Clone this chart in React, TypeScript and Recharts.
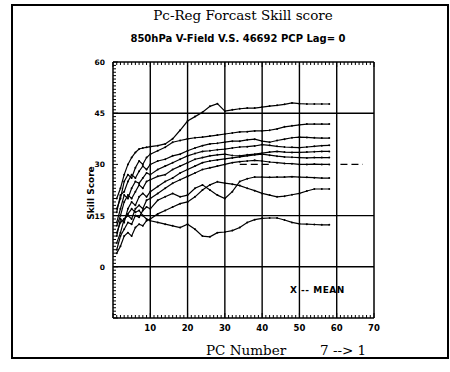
import { LineChart, Line, XAxis, YAxis, ReferenceLine } from "recharts"

// PC number (x) and skill score (%) per curve
const PC = [1, 2, 3, 4, 5, 6, 7, 8, 9, 10, 12, 14, 16, 18, 20, 22, 24, 26, 28, 30, 32, 34, 36, 38, 40, 42, 44, 46, 48, 50, 52, 54, 56, 58]

const S1 = [20, 23, 27, 30, 32, 33.5, 34.5, 34.8, 35, 35.2, 35.5, 36, 37.5, 40, 42.7, 44, 45.3, 47, 47.8, 45.6, 46, 46.3, 46.5, 46.5, 46.8, 47.1, 47.3, 47.6, 48, 47.8, 47.7, 47.7, 47.7, 47.7]
const S2 = [17, 20, 25, 27, 26, 29, 31, 30, 32, 33, 34, 35, 36.5, 37, 37.5, 37.8, 38, 38.3, 38.6, 38.9, 39.2, 39.5, 39.6, 39.8, 39.8, 40, 40.4, 41, 41.3, 41.6, 41.8, 41.8, 41.8, 41.8]
const S3 = [16, 21, 22, 25, 27, 26, 28, 29.5, 28.5, 30, 31, 31.5, 32.5, 33, 34, 34.8, 35.5, 36, 36.2, 36.5, 36.8, 36.8, 37.2, 37.4, 36.8, 36.5, 37, 37.4, 37.8, 38, 37.9, 37.8, 37.7, 37.7]
const S4 = [13, 17, 21, 20, 23, 25, 24.5, 26, 27.5, 27, 28.5, 29.5, 30.5, 31.5, 32.5, 33.2, 33.8, 34, 34.3, 34.5, 34.8, 35.1, 35.2, 35.4, 35.8, 35.6, 35.3, 35.1, 35, 34.9, 35.1, 35.3, 35.5, 35.6]
const S5 = [12, 15, 19, 21, 20, 22, 24, 23, 25, 25.5, 26.5, 27, 28.5, 29.5, 30.5, 31.5, 32, 32.5, 32.8, 33, 32.6, 32.5, 32.8, 33, 33.3, 33.6, 33.8, 33.6, 33.5, 33.5, 33.6, 33.7, 33.8, 33.8]
const S6 = [9, 14, 13, 17, 19, 18, 20.5, 21.5, 20.5, 22, 23.5, 25, 26, 27.5, 28.5, 29.5, 30.5, 31, 31.3, 31.6, 31.9, 32.2, 32.5, 32.8, 33, 32.7, 32.4, 32.2, 32.1, 32, 31.9, 32, 32, 32]
const S7 = [7, 10, 14, 15, 14, 17, 18, 17, 19.5, 20, 21.5, 23, 24.5, 25.5, 26.5, 27.5, 28.5, 29, 29.5, 30, 30.5, 30.8, 31, 31.2, 31, 30.7, 30.5, 30.3, 30.2, 30, 30, 30.1, 30, 30]
const S8 = [5, 9, 11, 13, 12.5, 15, 14.5, 16.5, 17.5, 17, 19.5, 20.5, 21.5, 20.5, 21, 23, 24, 22.5, 21, 20, 22, 25, 25.8, 26.3, 26.3, 26.2, 26.3, 26.3, 26.4, 26.3, 26.2, 26.1, 26, 26]
const S9 = [4, 6, 9, 10, 9, 11.5, 12.5, 12, 13.5, 14, 15.5, 16.5, 17.5, 18.5, 19, 20.5, 22.5, 24, 24.9, 24.5, 24.2, 23.8, 23, 22.3, 21.5, 21, 20.5, 20.7, 21.1, 21.5, 22.2, 22.8, 22.8, 22.8]
const S10 = [10, 13, 14, 15.5, 17, 16, 16.5, 15, 14, 13.5, 13, 12.5, 12, 11.5, 12.5, 11, 9, 8.8, 10, 10.2, 10.6, 11.5, 13, 13.8, 14.2, 14.3, 14.3, 13.7, 13, 12.6, 12.5, 12.4, 12.3, 12.3]

const SERIES = [S1, S2, S3, S4, S5, S6, S7, S8, S9, S10]

const X_TICKS = Array.from({ length: 71 }, (_, i) => i)
const Y_TICKS = Array.from({ length: 76 }, (_, i) => i - 15)
const GRID_X = [10, 20, 30, 40, 50, 60]
const GRID_Y = [0, 15, 45]
// the 30 gridline only shows as a couple of dashes on the scan
const DASH_30 = [[34, 42], [61, 67]]

const rows = PC.map((pc, i) => {
  const r: Record<string, number> = { pc }
  SERIES.forEach((s, k) => (r[`s${k + 1}`] = s[i]))
  return r
})

const tickFont = { fontFamily: "DejaVu Sans", fontSize: 8.5, fontWeight: 700 }

const BottomTick = ({ x, y, payload }: any) => {
  const v = payload.value
  const major = v % 10 === 0
  return (
    <g>
      <line x1={x} x2={x} y1={y} y2={y - (major ? 5 : 3)} stroke="#000" />
      {major && v > 0 && (
        <text x={x} y={y + 13} textAnchor="middle" {...tickFont}>{v}</text>
      )}
    </g>
  )
}

const TopTick = ({ x, y, payload }: any) => (
  <line x1={x} x2={x} y1={y} y2={y + (payload.value % 10 === 0 ? 5 : 3)} stroke="#000" />
)

const LeftTick = ({ x, y, payload }: any) => {
  const v = payload.value
  const major = v % 15 === 0
  return (
    <g>
      <line x1={x} x2={x + (major ? 5 : 3)} y1={y} y2={y} stroke="#000" />
      {major && v >= 0 && (
        <text x={x - 8} y={y + 3} textAnchor="end" {...tickFont} fontSize={7.5}>{v}</text>
      )}
    </g>
  )
}

const RightTick = ({ x, y, payload }: any) => (
  <line x1={x} x2={x - (payload.value % 15 === 0 ? 5 : 3)} y1={y} y2={y} stroke="#000" />
)

const abs = (left: number, top: number, extra: any = {}) => ({
  position: "absolute" as const,
  left,
  top,
  whiteSpace: "nowrap" as const,
  color: "#000",
  ...extra,
})

export default function App() {
  return (
    <div style={{ position: "absolute", left: 0, top: 0, width: 450, height: 372, background: "#fff", overflow: "hidden" }}>
      <div style={{ position: "absolute", left: 11, top: 4, width: 434, height: 351, border: "2px solid #000" }} />
      <LineChart width={450} height={372} data={rows} margin={{ top: 61, right: 75, bottom: 34, left: 92 }}>
        <XAxis xAxisId="b" dataKey="pc" type="number" domain={[0, 70]} ticks={X_TICKS} interval={0}
          height={20} tickSize={0} tickMargin={0} tickLine={false} axisLine={{ stroke: "#000", strokeWidth: 1.5 }} tick={BottomTick} />
        <XAxis xAxisId="t" orientation="top" dataKey="pc" type="number" domain={[0, 70]} ticks={X_TICKS} interval={0}
          height={1} tickSize={0} tickMargin={0} tickLine={false} axisLine={{ stroke: "#000", strokeWidth: 1.5 }} tick={TopTick} />
        <YAxis yAxisId="l" type="number" domain={[-15, 60]} ticks={Y_TICKS} interval={0}
          width={21} tickSize={0} tickMargin={0} tickLine={false} axisLine={{ stroke: "#000", strokeWidth: 1.5 }} tick={LeftTick} />
        <YAxis yAxisId="r" orientation="right" type="number" domain={[-15, 60]} ticks={Y_TICKS} interval={0}
          width={1} tickSize={0} tickMargin={0} tickLine={false} axisLine={{ stroke: "#000", strokeWidth: 1.5 }} tick={RightTick} />
        {GRID_X.map((g) => (
          <ReferenceLine key={`gx${g}`} xAxisId="b" yAxisId="l" x={g} stroke="#000" strokeWidth={1.4} />
        ))}
        {GRID_Y.map((g) => (
          <ReferenceLine key={`gy${g}`} xAxisId="b" yAxisId="l" y={g} stroke="#000" strokeWidth={1.4} />
        ))}
        {DASH_30.map(([a, b]) => (
          <ReferenceLine key={`d${a}`} xAxisId="b" yAxisId="l" segment={[{ x: a, y: 30 }, { x: b, y: 30 }]}
            stroke="#000" strokeWidth={1.2} strokeDasharray="7 4" />
        ))}
        {SERIES.map((_, k) => (
          <Line key={k} xAxisId="b" yAxisId="l" type="linear" dataKey={`s${k + 1}`} stroke="#000" strokeWidth={1.2}
            dot={{ r: 1, fill: "#000", stroke: "none" }} isAnimationActive={false} />
        ))}
      </LineChart>
      <div style={abs(0, 7, { width: 486, textAlign: "center", fontFamily: "DejaVu Serif", fontSize: 13.5 })}>
        Pc-Reg Forcast Skill score
      </div>
      <div style={abs(0, 33, { width: 476, textAlign: "center", fontFamily: "DejaVu Sans", fontSize: 10, fontWeight: 700 })}>
        850hPa V-Field V.S. 46692 PCP Lag= 0
      </div>
      <div style={abs(91, 193, { fontFamily: "DejaVu Sans", fontSize: 9, fontWeight: 700, transform: "translate(-50%, -50%) rotate(-90deg)" })}>
        Skill Score
      </div>
      <div style={abs(290, 285, { fontFamily: "DejaVu Sans", fontSize: 9, fontWeight: 700, letterSpacing: 0.5 })}>X -- MEAN</div>
      <div style={abs(206, 342, { fontFamily: "DejaVu Serif", fontSize: 13.5 })}>PC Number</div>
      <div style={abs(320, 342, { fontFamily: "DejaVu Serif", fontSize: 13.5 })}>7 --&gt; 1</div>
    </div>
  )
}
